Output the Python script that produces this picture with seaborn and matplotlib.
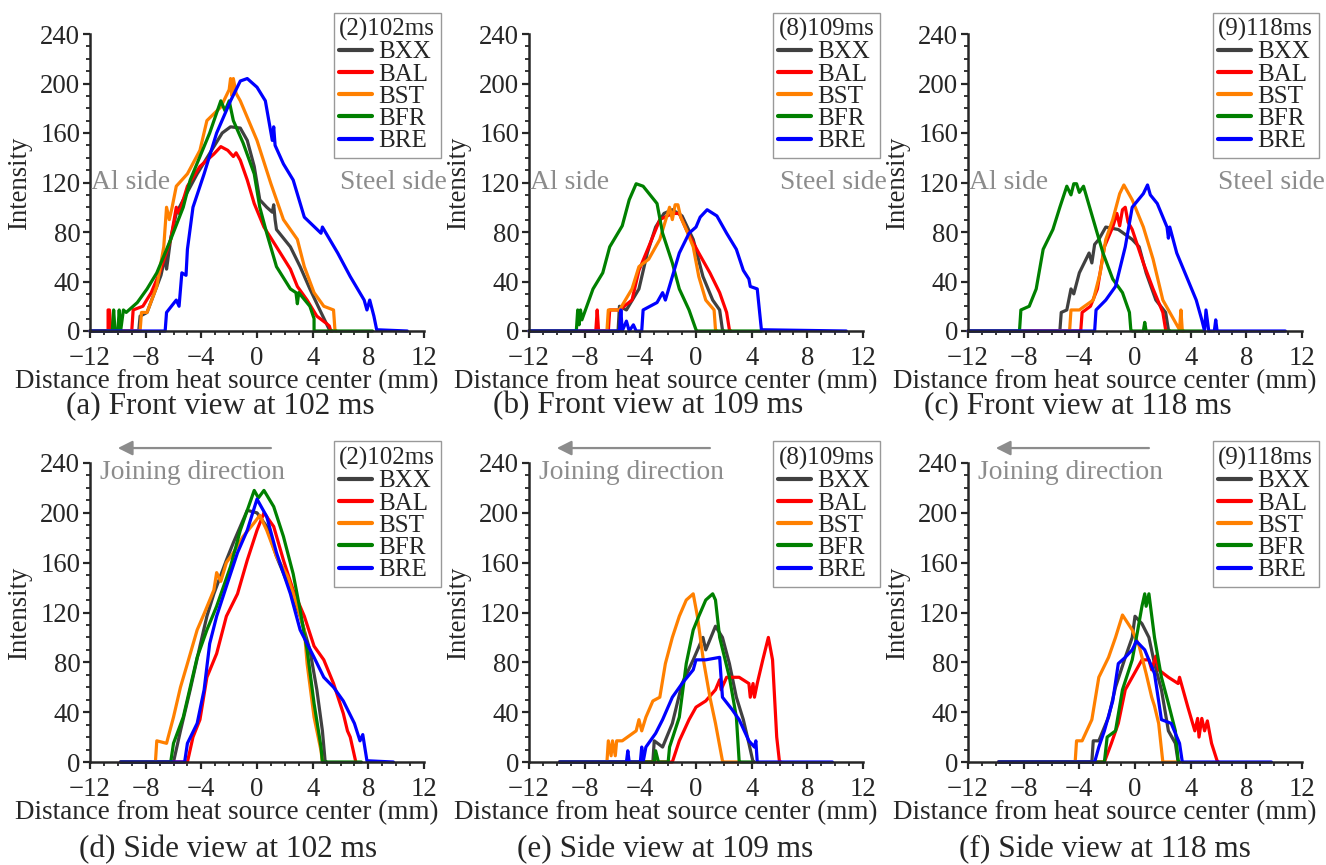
import matplotlib
matplotlib.use("Agg")
import matplotlib.pyplot as plt
import pandas as pd
import seaborn as sns

series_names = ["BXX", "BAL", "BST", "BFR", "BRE"]
series_colors = ["#404040", "#ff0000", "#ff8000", "#008000", "#0000ff"]

# (a) front view at 102 ms -- (x mm, intensity) points
a_bxx = [(-12, 0), (-8.5, 0), (-8.4, 12), (-7.9, 15), (-7.4, 30), (-6.9, 45), (-6.6, 60), (-6.5, 50), (-6.4, 58),
         (-6.2, 75), (-5.8, 95), (-5.3, 106), (-4.3, 127), (-3.1, 149), (-2.5, 160), (-1.9, 165), (-1.2, 164),
         (-0.7, 154), (-0.2, 133), (0.2, 106), (0.7, 100), (1.1, 96), (1.2, 102), (1.3, 90), (1.4, 82), (2.4, 68),
         (3.1, 52), (3.8, 34), (4.6, 15), (5.2, 1), (5.4, 0)]
a_bal = [(-12, 0), (-10.7, 0), (-10.7, 17), (-10.6, 17), (-10.5, 0), (-9.0, 0), (-8.9, 17), (-8.2, 20), (-7.6, 31),
         (-7.0, 47), (-6.2, 74), (-5.8, 100), (-5.6, 95), (-5.0, 117), (-4.1, 133), (-3.1, 143), (-2.6, 149),
         (-2.1, 146), (-1.7, 141), (-1.5, 144), (-1.2, 138), (-0.7, 122), (-0.2, 103), (0.5, 84), (1.4, 68),
         (2.4, 50), (2.9, 36), (3.6, 25), (4.3, 12), (5.0, 6), (5.2, 4), (5.3, 0)]
a_bst = [(-12, 0), (-8.4, 0), (-8.3, 15), (-7.9, 15), (-7.2, 36), (-6.7, 68), (-6.5, 100), (-6.3, 90), (-6.1, 100),
         (-5.8, 117), (-5.0, 127), (-4.1, 146), (-3.6, 170), (-2.6, 181), (-2.0, 195), (-1.9, 204), (-1.8, 190),
         (-1.7, 204), (-1.5, 192), (-1.2, 186), (0, 154), (1.0, 119), (1.9, 90), (2.9, 74), (3.4, 52), (4.1, 31),
         (4.8, 20), (5.5, 17), (5.6, 1), (5.7, 0)]
a_bfr = [(-12, 0), (-10.4, 0), (-10.3, 17), (-10.2, 0), (-10.0, 0), (-9.9, 17), (-9.8, 0), (-9.6, 17), (-9.4, 15),
         (-8.6, 23), (-7.9, 34), (-7.2, 47), (-6.2, 74), (-5.3, 100), (-4.8, 122), (-4.1, 141), (-3.4, 160),
         (-2.6, 186), (-2.3, 178), (-2.0, 186), (-1.7, 170), (-1.0, 152), (-0.2, 127), (0.2, 100), (0.7, 79),
         (1.4, 52), (2.4, 34), (2.8, 31), (2.9, 22), (3.0, 31), (3.8, 20), (4.1, 10), (4.1, 0), (8.3, 0)]
a_bre = [(-12, 0), (-6.6, 0), (-6.5, 15), (-5.8, 25), (-5.6, 20), (-5.4, 47), (-5.1, 45), (-5.0, 66), (-4.6, 100),
         (-3.8, 127), (-2.9, 160), (-1.9, 186), (-1.2, 202), (-0.7, 204), (0, 197), (0.6, 186), (1.1, 154),
         (1.2, 165), (1.3, 150), (1.9, 135), (2.6, 122), (3.4, 92), (4.6, 79), (4.7, 84), (5.8, 63), (6.7, 44),
         (7.7, 25), (7.9, 17), (8.1, 25), (8.4, 12), (8.6, 1), (10.8, 0)]

# (b) front view at 109 ms
b_bxx = [(-12, 0), (-5.6, 0), (-5.5, 20), (-5.0, 17), (-4.1, 34), (-3.5, 63), (-2.9, 84), (-2.3, 95), (-1.7, 98),
         (-1.0, 93), (-0.2, 74), (0.5, 44), (1.2, 25), (1.7, 17), (1.9, 1), (2.0, 0)]
b_bal = [(-12, 0), (-7.2, 0), (-7.1, 17), (-7.0, 0), (-6.3, 0), (-6.2, 17), (-5.5, 17), (-4.6, 25), (-4.1, 49),
         (-3.4, 68), (-2.6, 90), (-1.7, 95), (-1.2, 95), (-0.7, 82), (0.2, 63), (1.0, 47), (1.7, 31), (2.2, 15),
         (2.4, 1), (2.5, 0)]
b_bst = [(-12, 0), (-6.4, 0), (-6.3, 17), (-5.5, 17), (-4.6, 34), (-4.1, 52), (-3.4, 58), (-2.6, 74), (-1.9, 100),
         (-1.7, 90), (-1.5, 102), (-1.3, 102), (-1.1, 92), (-0.7, 82), (-0.2, 68), (0.2, 44), (0.7, 25), (1.3, 17),
         (1.4, 1), (1.5, 0)]
b_bfr = [(-12, 0), (-8.6, 0), (-8.5, 17), (-8.4, 5), (-8.3, 17), (-8.2, 9), (-7.4, 34), (-6.7, 47), (-6.2, 68),
         (-5.3, 85), (-4.8, 106), (-4.3, 119), (-3.8, 117), (-2.8, 103), (-2.4, 79), (-1.7, 55), (-1.2, 34),
         (-0.5, 17), (0, 1), (0.1, 0), (4.7, 0)]
b_bre = [(-12, 0), (-5.5, 0), (-5.4, 17), (-5.3, 0), (-5.0, 8), (-4.8, 0), (-4.5, 5), (-4.3, 0), (-3.9, 0),
         (-3.8, 17), (-2.8, 23), (-2.4, 31), (-2.2, 25), (-1.7, 44), (-1.2, 63), (-0.5, 79), (0, 84), (0.3, 92),
         (0.8, 98), (1.5, 93), (2.2, 79), (2.9, 66), (3.4, 49), (3.8, 42), (3.9, 36), (4.4, 34), (4.7, 1), (10.8, 0)]

# (c) front view at 118 ms
c_bxx = [(-12, 0), (-5.4, 0), (-5.3, 15), (-4.9, 17), (-4.6, 34), (-4.4, 30), (-4.0, 47), (-3.3, 63), (-3.1, 55),
         (-2.9, 70), (-2.6, 74), (-2.1, 84), (-1.2, 82), (-0.2, 74), (0.3, 68), (0.8, 47), (1.5, 25), (2.2, 15),
         (2.4, 1), (2.5, 0)]
c_bal = [(-12, 0), (-3.9, 0), (-3.8, 15), (-3.2, 20), (-2.7, 34), (-2.2, 68), (-1.6, 84), (-1.3, 95), (-1.1, 85),
         (-0.9, 98), (-0.7, 100), (-0.5, 88), (-0.2, 82), (0.6, 55), (1.3, 34), (2.0, 15), (2.2, 1), (2.3, 0)]
c_bst = [(-12, 0), (-4.7, 0), (-4.6, 17), (-4.0, 17), (-3.0, 25), (-2.5, 47), (-2.1, 74), (-1.6, 90), (-1.1, 111),
         (-0.8, 118), (-0.2, 106), (0.6, 84), (1.3, 58), (2.0, 25), (2.8, 9), (3.2, 1), (3.3, 17), (3.4, 0),
         (3.5, 0)]
c_bfr = [(-12, 0), (-8.3, 0), (-8.2, 17), (-7.6, 20), (-7.1, 34), (-6.6, 66), (-5.9, 82), (-5.4, 100), (-4.9, 117),
         (-4.6, 110), (-4.4, 119), (-4.2, 119), (-4.0, 112), (-3.7, 117), (-3.0, 90), (-2.3, 63), (-1.6, 42),
         (-0.9, 31), (-0.4, 15), (-0.3, 1), (-0.2, 0), (0.6, 0), (0.7, 7), (0.8, 0), (4.9, 0)]
c_bre = [(-12, 0), (-2.9, 0), (-2.8, 17), (-2.1, 25), (-1.4, 36), (-0.7, 68), (-0.2, 100), (0.6, 111), (0.9, 118),
         (1.1, 110), (1.6, 103), (2.3, 84), (2.4, 75), (2.5, 84), (3.0, 63), (3.7, 44), (4.4, 25), (4.8, 9),
         (5.0, 0), (5.1, 17), (5.3, 0), (5.7, 0), (5.8, 9), (5.9, 0), (10.8, 0)]

# (d) side view at 102 ms
d_bxx = [(-9.8, 0), (-6.0, 0), (-5.5, 25), (-4.8, 58), (-4.1, 93), (-3.6, 117), (-3.1, 135), (-2.2, 162),
         (-1.7, 176), (-0.7, 202), (0, 200), (0.7, 189), (1.4, 165), (2.4, 138), (3.1, 117), (3.8, 90), (4.3, 58),
         (4.7, 25), (4.9, 0), (5.0, 0)]
d_bal = [(-9.8, 0), (-5.0, 0), (-4.6, 20), (-4.1, 34), (-3.6, 68), (-2.9, 87), (-2.2, 117), (-1.4, 135),
         (-0.7, 162), (0, 186), (0.5, 200), (1.2, 189), (1.9, 162), (2.6, 138), (3.4, 117), (4.1, 93), (4.8, 82),
         (5.5, 63), (6.2, 39), (6.5, 25), (6.7, 20), (7.1, 0)]
d_bst = [(-9.8, 0), (-7.3, 0), (-7.2, 17), (-6.5, 15), (-6.0, 36), (-5.5, 60), (-5.0, 79), (-4.3, 106),
         (-3.8, 119), (-3.1, 138), (-2.9, 152), (-2.6, 145), (-2.2, 160), (-1.7, 168), (-1.0, 181), (-0.2, 192),
         (0.2, 198), (0.7, 186), (1.4, 165), (2.2, 149), (2.9, 125), (3.4, 106), (3.6, 79), (4.1, 36), (4.6, 9),
         (4.7, 0)]
d_bfr = [(-9.8, 0), (-6.2, 0), (-6.0, 15), (-5.3, 36), (-4.3, 84), (-3.6, 106), (-2.9, 125), (-1.9, 157),
         (-1.2, 186), (-0.2, 218), (0.1, 212), (0.5, 218), (1.2, 205), (1.9, 181), (2.6, 151), (3.1, 122),
         (3.6, 90), (4.1, 47), (4.6, 12), (4.7, 0), (7.5, 0)]
d_bre = [(-9.8, 0), (-5.2, 0), (-5.0, 15), (-4.3, 31), (-3.8, 58), (-3.4, 95), (-2.9, 117), (-2.2, 141),
         (-1.4, 168), (-0.7, 186), (0, 211), (0.7, 197), (1.4, 168), (2.4, 135), (3.1, 106), (4.1, 84), (4.8, 68),
         (5.5, 60), (6.2, 49), (7.0, 31), (7.4, 17), (7.6, 22), (7.9, 1), (9.8, 0)]

# (e) side view at 109 ms
e_bxx = [(-9.8, 0), (-3.1, 0), (-3.0, 17), (-2.4, 12), (-1.7, 31), (-1.0, 63), (-0.2, 82), (0.5, 100), (0.7, 90),
         (1.4, 109), (1.9, 100), (2.4, 79), (2.9, 52), (3.4, 34), (3.8, 15), (4.1, 0), (4.2, 0)]
e_bal = [(-9.8, 0), (-1.7, 0), (-1.2, 17), (-0.5, 34), (0, 44), (0.7, 49), (1.4, 58), (1.7, 66), (1.8, 58),
         (2.2, 68), (3.1, 68), (3.8, 63), (3.9, 52), (4.1, 63), (4.2, 52), (4.4, 63), (4.8, 82), (5.2, 100),
         (5.5, 82), (5.8, 20), (6.0, 0), (6.1, 0)]
e_bst = [(-9.8, 0), (-6.4, 0), (-6.3, 17), (-6.1, 5), (-6.0, 17), (-5.8, 5), (-5.7, 17), (-5.3, 17), (-4.3, 25),
         (-4.1, 34), (-3.9, 25), (-3.6, 36), (-3.1, 49), (-2.6, 52), (-2.2, 79), (-1.7, 100), (-1.2, 117),
         (-0.7, 130), (-0.2, 135), (0.1, 117), (0.5, 84), (1.0, 52), (1.4, 31), (1.9, 1), (2.0, 0), (3.0, 0)]
e_bfr = [(-9.8, 0), (-3.0, 0), (-2.9, 9), (-2.7, 0), (-2.0, 0), (-1.9, 12), (-1.2, 36), (-0.7, 79), (-0.2, 106),
         (0.2, 117), (0.7, 130), (1.2, 135), (1.4, 130), (1.7, 100), (2.4, 68), (2.9, 36), (3.1, 1), (3.2, 0),
         (4.0, 0)]
e_bre = [(-9.8, 0), (-5.0, 0), (-4.9, 9), (-4.8, 0), (-4.0, 0), (-3.9, 12), (-3.8, 0), (-3.6, 12), (-2.9, 23),
         (-2.4, 34), (-1.7, 52), (-1.0, 63), (-0.2, 74), (0, 82), (0.7, 82), (1.7, 84), (1.9, 52), (2.6, 42),
         (3.1, 34), (3.8, 17), (4.2, 12), (4.3, 17), (4.4, 0), (9.8, 0)]

# (f) side view at 118 ms
f_bxx = [(-9.8, 0), (-3.1, 0), (-3.0, 17), (-2.6, 17), (-1.9, 36), (-1.4, 60), (-0.7, 84), (-0.2, 100), (0, 117),
         (0.5, 111), (1.0, 100), (1.4, 79), (1.9, 58), (2.4, 25), (2.9, 15), (3.1, 0), (3.2, 0)]
f_bal = [(-9.8, 0), (-2.2, 0), (-1.7, 15), (-1.2, 31), (-0.7, 58), (-0.2, 68), (0.5, 82), (1.0, 82), (1.2, 74),
         (1.5, 85), (1.7, 74), (2.4, 68), (3.1, 63), (3.2, 68), (3.8, 44), (4.3, 25), (4.5, 35), (4.6, 20),
         (4.8, 35), (5.0, 25), (5.2, 33), (5.5, 15), (5.9, 1), (6.0, 0)]
f_bst = [(-9.8, 0), (-4.3, 0), (-4.2, 17), (-3.8, 17), (-3.1, 34), (-2.6, 68), (-1.9, 84), (-1.4, 100),
         (-0.9, 118), (-0.2, 106), (0.3, 93), (0.8, 71), (1.2, 52), (1.4, 45), (1.7, 31), (2.0, 0), (3.0, 0)]
f_bfr = [(-9.8, 0), (-2.2, 0), (-2.0, 20), (-1.4, 25), (-0.9, 58), (-0.2, 82), (0.2, 106), (0.5, 125), (0.7, 135),
         (0.8, 125), (1.0, 135), (1.4, 100), (1.9, 68), (2.4, 47), (2.9, 25), (3.1, 1), (3.2, 0)]
f_bre = [(-9.8, 0), (-2.9, 0), (-2.6, 12), (-2.2, 25), (-1.6, 49), (-1.2, 79), (-0.7, 84), (-0.2, 90), (0.1, 97),
         (0.7, 90), (1.4, 71), (1.9, 34), (2.6, 31), (3.2, 15), (3.4, 0), (9.8, 0)]

legend_titles = ["(2)102ms", "(8)109ms", "(9)118ms"]
captions = ["(a) Front view at 102 ms", "(b) Front view at 109 ms", "(c) Front view at 118 ms",
            "(d) Side view at 102 ms", "(e) Side view at 109 ms", "(f) Side view at 118 ms"]

panels = [
    [a_bxx, a_bal, a_bst, a_bfr, a_bre],
    [b_bxx, b_bal, b_bst, b_bfr, b_bre],
    [c_bxx, c_bal, c_bst, c_bfr, c_bre],
    [d_bxx, d_bal, d_bst, d_bfr, d_bre],
    [e_bxx, e_bal, e_bst, e_bfr, e_bre],
    [f_bxx, f_bal, f_bst, f_bfr, f_bre],
]


def to_frame(curves):
    rows = []
    for name, pts in zip(series_names, curves):
        for x, y in pts:
            rows.append((name, x, y))
    return pd.DataFrame(rows, columns=["series", "distance", "intensity"])


sns.set_style("ticks")
plt.rcParams["font.family"] = ["Liberation Serif", "DejaVu Serif"]
plt.rcParams["axes.linewidth"] = 1.8

W, H = 1326, 865
fig = plt.figure(figsize=(W / 100, H / 100), dpi=100)

lefts = [90, 529, 968]
ax_w = 334
rows_px = [(34, 331), (463, 762)]   # top, bottom of the axes in pixels
cap_x = [[220, 648, 1078], [228, 665, 1105]]
cap_y = [406, 850]
grey = "#8c8c8c"

for i, curves in enumerate(panels):
    r, c = divmod(i, 3)
    top, bot = rows_px[r]
    ax = fig.add_axes([lefts[c] / W, 1 - bot / H, ax_w / W, (bot - top) / H])
    df = to_frame(curves)
    sns.lineplot(data=df, x="distance", y="intensity", hue="series", hue_order=series_names,
                 palette=series_colors, estimator=None, sort=False, linewidth=2.3, ax=ax)
    for ln in ax.get_lines():
        ln.set_clip_on(False)

    ax.set_xlim(-12, 12)
    ax.set_ylim(0, 240)
    ax.set_xticks(range(-12, 13, 4))
    ax.set_yticks(range(0, 241, 40))
    ax.set_xticks(range(-12, 13, 1), minor=True)
    ax.set_yticks(range(0, 241, 10), minor=True)
    ax.tick_params(which="major", direction="out", length=5, width=1.6, labelsize=19.3, pad=2)
    ax.tick_params(which="minor", direction="out", length=3, width=1.3)
    ax.tick_params(axis="x", which="major", pad=6)
    sns.despine(ax=ax)

    ax.set_xlabel("Distance from heat source center (mm)", fontsize=19.5)
    ax.xaxis.set_label_coords(0.41, -0.127)
    ax.set_ylabel("Intensity", fontsize=19.2)
    ax.yaxis.set_label_coords(-0.175, 0.5)

    handles, labels = ax.get_legend_handles_labels()
    leg = ax.legend(handles, labels, title=legend_titles[c], loc="upper right",
                    bbox_to_anchor=(1.05, 1.072), fontsize=18, title_fontsize=18,
                    frameon=True, fancybox=False, edgecolor="#999999", framealpha=1,
                    borderpad=0.22, borderaxespad=0, labelspacing=-0.01, handlelength=1.3,
                    handletextpad=0.25, alignment="left")
    leg.get_frame().set_linewidth(1.0)
    for h in leg.get_lines():
        h.set_linewidth(3)

    if r == 0:
        ax.text(-11.9, 120, "Al side", color=grey, fontsize=19.9, ha="left", va="center", clip_on=False)
        ax.text(6.0, 120, "Steel side", color=grey, fontsize=19.9, ha="left", va="center", clip_on=False)
    else:
        ax.annotate("", xy=(-10.2, 252), xytext=(1.2, 252), annotation_clip=False,
                    arrowprops=dict(arrowstyle="-|>", color=grey, lw=1.6, mutation_scale=22))
        ax.text(-11.3, 232, "Joining direction", color=grey, fontsize=19.8, ha="left", va="center",
                clip_on=False)

    fig.text(cap_x[r][c] / W, 1 - cap_y[r] / H, captions[i], fontsize=22.5, ha="center", va="center")

fig.savefig("out.png", dpi=100)
